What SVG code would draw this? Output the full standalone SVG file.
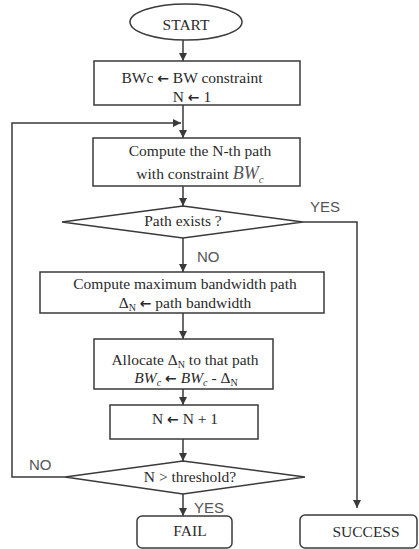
<svg xmlns="http://www.w3.org/2000/svg" width="419" height="549" viewBox="0 0 419 549">
<style>
  .shape { fill: #ffffff; stroke: #3a3a3a; stroke-width: 1.5; }
  .conn { fill: none; stroke: #3a3a3a; stroke-width: 1.5; }
  .t { font-family: "Liberation Serif", "Times New Roman", serif; font-size: 15.5px; fill: #2a2a2a; text-anchor: middle; }
  .m { font-style: italic; fill: #555; }
  .ar { font-family: "DejaVu Sans", sans-serif; font-size: 14px; font-weight: bold; }
  .lbl { font-family: "Liberation Sans", Arial, sans-serif; font-size: 15px; fill: #555; }
</style>
<defs>
  <marker id="ah" viewBox="0 0 10 10" refX="10" refY="5" markerWidth="8" markerHeight="8" markerUnits="userSpaceOnUse" orient="auto">
    <path d="M0,0 L10,5 L0,10 z" fill="#3a3a3a"/>
  </marker>
</defs>
<rect width="419" height="549" fill="#ffffff"/>

<g id="connectors">
  <line class="conn" x1="183" y1="40" x2="183" y2="61" marker-end="url(#ah)"/>
  <line class="conn" x1="183" y1="105" x2="183" y2="138" marker-end="url(#ah)"/>
  <polyline class="conn" points="65,477 12,477 12,123 181,123" marker-end="url(#ah)"/>
  <line class="conn" x1="183" y1="186" x2="183" y2="206" marker-end="url(#ah)"/>
  <polyline class="conn" points="303,222 357,222 357,508" marker-end="url(#ah)"/>
  <line class="conn" x1="183" y1="238" x2="183" y2="272" marker-end="url(#ah)"/>
  <line class="conn" x1="183" y1="313" x2="183" y2="339" marker-end="url(#ah)"/>
  <line class="conn" x1="183" y1="389" x2="183" y2="405" marker-end="url(#ah)"/>
  <line class="conn" x1="183" y1="439" x2="183" y2="461" marker-end="url(#ah)"/>
  <line class="conn" x1="183" y1="494" x2="183" y2="516" marker-end="url(#ah)"/>
  <text class="lbl" x="310" y="212">YES</text>
  <text class="lbl" x="197" y="262">NO</text>
  <text class="lbl" x="29" y="470">NO</text>
  <text class="lbl" x="194" y="513">YES</text>
</g>

<g id="start">
  <ellipse class="shape" cx="186" cy="22" rx="56" ry="18"/>
  <text class="t" x="186" y="30">START</text>
</g>

<g id="init">
  <rect class="shape" x="94" y="61" width="206" height="44"/>
  <text class="t" x="192" y="83">BWc <tspan class="ar">←</tspan> BW constraint</text>
  <text class="t" x="192" y="102">N <tspan class="ar">←</tspan> 1</text>
</g>

<g id="compute-nth">
  <rect class="shape" x="93" y="138" width="207" height="48"/>
  <text class="t" x="200" y="156">Compute the N-th path</text>
  <text class="t" x="200" y="179">with constraint <tspan class="m" font-size="18">BW</tspan><tspan class="m" font-size="11" dy="4">c</tspan></text>
</g>

<g id="path-exists">
  <polygon class="shape" points="183,206 303,222 183,238 62,222"/>
  <text class="t" x="183" y="226">Path exists ?</text>
</g>

<g id="compute-max">
  <rect class="shape" x="40" y="272" width="284" height="41"/>
  <text class="t" x="185" y="289">Compute maximum bandwidth path</text>
  <text class="t" x="185" y="308">Δ<tspan font-size="10" dy="3">N</tspan><tspan dy="-3"> </tspan><tspan class="ar">←</tspan> path bandwidth</text>
</g>

<g id="allocate">
  <rect class="shape" x="94" y="339" width="179" height="50"/>
  <text class="t" x="185" y="365">Allocate Δ<tspan font-size="10" dy="3">N</tspan><tspan dy="-3"> to that path</tspan></text>
  <text class="t" x="186" y="383"><tspan font-style="italic">BW</tspan><tspan font-style="italic" font-size="10" dy="3">c</tspan><tspan dy="-3"> </tspan><tspan class="ar">←</tspan> <tspan font-style="italic">BW</tspan><tspan font-style="italic" font-size="10" dy="3">c</tspan><tspan dy="-3"> - Δ</tspan><tspan font-size="10" dy="3">N</tspan></text>
</g>

<g id="increment">
  <rect class="shape" x="110" y="405" width="148" height="34"/>
  <text class="t" x="185" y="424">N <tspan class="ar">←</tspan> N + 1</text>
</g>

<g id="threshold">
  <polygon class="shape" points="183,461 305,477 183,494 65,477"/>
  <text class="t" x="190" y="482">N &gt; threshold?</text>
</g>

<g id="fail">
  <rect class="shape" x="137" y="516" width="95" height="32" rx="5"/>
  <text class="t" x="190" y="536">FAIL</text>
</g>

<g id="success">
  <rect class="shape" x="300" y="515" width="117" height="33" rx="5"/>
  <text class="t" x="366" y="537">SUCCESS</text>
</g>
</svg>
